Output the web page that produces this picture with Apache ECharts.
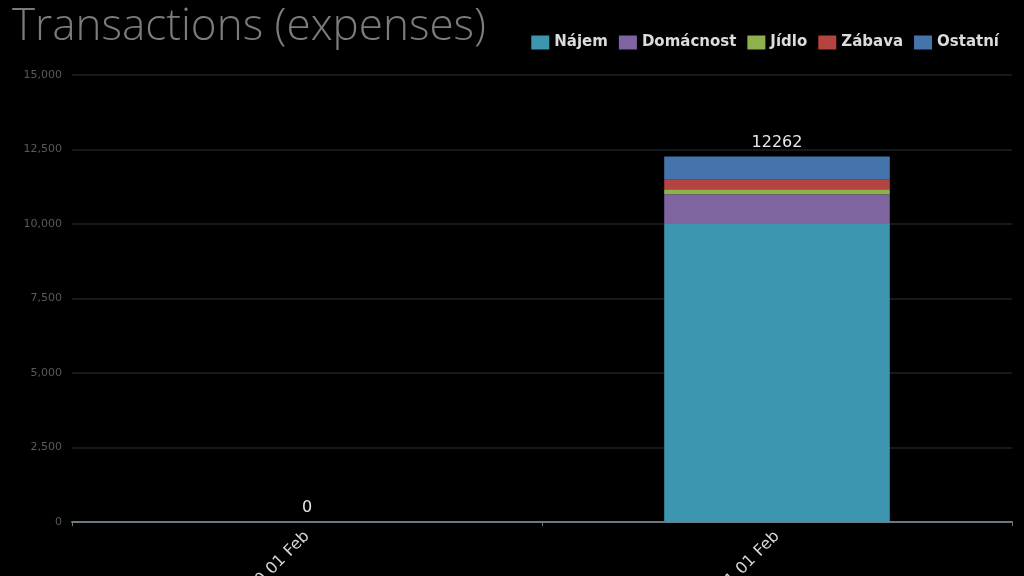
<!DOCTYPE html>
<html>
<head>
<meta charset="utf-8">
<title>Transactions (expenses)</title>
<script src="https://cdn.jsdelivr.net/npm/echarts@6/dist/echarts.min.js"></script>
<style>
	html, body { margin: 0; padding: 0; background: #000; }
	#chart { width: 1024px; height: 576px; }
</style>
</head>
<body>
<div id="chart"></div>
<script>
// kategorie (mesice) a hodnoty jednotlivych rad
var categories = ['2020 01 Feb', '2021 01 Feb'];
var najem = [0, 10000];
var domacnost = [0, 1000];
var jidlo = [0, 168];
var zabava = [0, 336];
var ostatni = [0, 758];
var yTicks = [0, 2500, 5000, 7500, 10000, 12500, 15000];

var names = ['Nájem', 'Domácnost', 'Jídlo', 'Zábava', 'Ostatní'];
var colors = ['#3d96b0', '#7f65a0', '#8fb04f', '#b4443f', '#4574ac'];
var values = [najem, domacnost, jidlo, zabava, ostatni];

function total(i){
	var s = 0;
	for(var k = 0; k < values.length; k++){
		s += values[k][i];
	}
	return s;
}

var series = [];
for(var k = 0; k < names.length; k++){
	var s = {
		name: names[k],
		type: 'bar',
		stack: 'exp',
		barWidth: '48%',
		data: values[k],
		itemStyle: { color: colors[k] }
	};
	if(k == names.length - 1){
		// soucet nad sloupcem
		s.label = {
			show: true,
			position: 'top',
			distance: 6,
			color: '#e8e8e8',
			fontSize: 16,
			fontFamily: 'DejaVu Sans',
			formatter: function(p){ return '' + total(p.dataIndex); }
		};
	}
	series.push(s);
}

var chart = echarts.init(document.getElementById('chart'));
chart.setOption({
	backgroundColor: '#000',
	animation: false,
	title: {
		text: 'Transactions (expenses)',
		left: 7,
		top: 0,
		textStyle: { color: '#7c7c7c', fontSize: 44, fontWeight: 300, fontFamily: 'Open Sans' }
	},
	legend: {
		data: names,
		icon: 'rect',
		right: 20,
		top: 30,
		itemWidth: 18,
		itemHeight: 14,
		itemGap: 11,
		textStyle: { color: '#dcdcdc', fontSize: 15, fontWeight: 'bold', fontFamily: 'DejaVu Sans' }
	},
	grid: { left: 72, right: 12, top: 75, bottom: 54, outerBoundsMode: 'none', containLabel: false },
	xAxis: {
		type: 'category',
		data: categories,
		axisLine: { lineStyle: { color: '#6a7a84', width: 2 } },
		axisTick: { show: true, length: 4, lineStyle: { color: '#6a7a84' } },
		axisLabel: {
			rotate: 45,
			color: '#d8d8d8',
			fontSize: 16,
			fontFamily: 'DejaVu Sans',
			margin: 12
		}
	},
	yAxis: {
		type: 'value',
		min: yTicks[0],
		max: yTicks[yTicks.length - 1],
		interval: yTicks[1] - yTicks[0],
		axisLine: { show: false },
		axisTick: { show: false },
		splitLine: { lineStyle: { color: '#1e2226', width: 1.5 } },
		axisLabel: {
			color: '#5a5a5a',
			fontSize: 11,
			fontFamily: 'DejaVu Sans',
			margin: 10,
			formatter: function(v){ return v.toLocaleString('en-US'); }
		}
	},
	series: series
});
</script>
</body>
</html>
